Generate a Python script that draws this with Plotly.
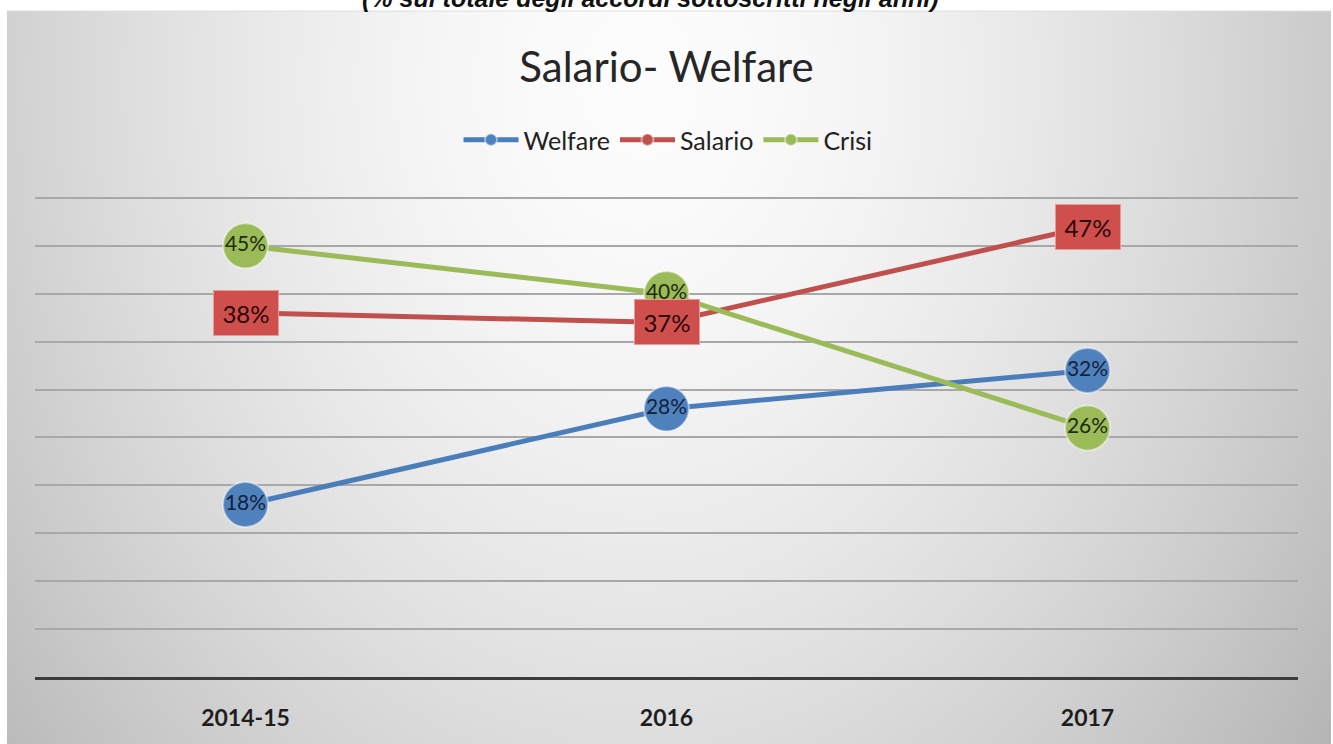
import base64, struct, zlib
import numpy as np
import plotly.graph_objects as go

# ---------------- data ----------------
categories = ["2014-15", "2016", "2017"]
welfare = [18, 28, 32]
salario = [38, 37, 47]
crisi = [45, 40, 26]
y_ticks = [0, 5, 10, 15, 20, 25, 30, 35, 40, 45, 50]

title_text = "Salario- Welfare"
subtitle_text = "(% sul totale degli accordi sottoscritti negli anni)"

W, H = 1333, 744
L, R, T, B = 35, 35, 196, 67
PW, PH = W - L - R, H - T - B

FONT = "Lato, 'Open Sans', sans-serif"


# ---------------- background gradient image (PNG data URI) ----------------
def make_png(arr):
    h, w = arr.shape
    raw = b"".join(b"\x00" + arr[i].astype(np.uint8).tobytes() for i in range(h))

    def chunk(tag, data):
        c = struct.pack(">I", len(data)) + tag + data
        return c + struct.pack(">I", zlib.crc32(tag + data) & 0xFFFFFFFF)

    png = b"\x89PNG\r\n\x1a\n"
    png += chunk(b"IHDR", struct.pack(">IIBBBBB", w, h, 8, 0, 0, 0, 0))
    png += chunk(b"IDAT", zlib.compress(raw, 9))
    png += chunk(b"IEND", b"")
    return "data:image/png;base64," + base64.b64encode(png).decode()


gx0, gy0, gx1, gy1 = 7, 11, 1331, 744
gw, gh = 331, 183
xs = np.linspace(gx0, gx1, gw)
ys = np.linspace(gy0, gy1, gh)
X, Y = np.meshgrid(xs, ys)
dx = (X - 640) / 650.0
dy = (Y - 80) / 664.0
d = np.sqrt(dx ** 2 + (0.8 * dy) ** 2)
val = np.clip(253 - 45 * d ** 1.6, 0, 255)
bg_uri = make_png(val)


def px_to_paper_x(px):
    return (px - L) / PW


def px_to_paper_y(py):
    return (H - B - py) / PH


fig = go.Figure()

series = [
    ("Welfare", welfare, "#4f81bd", "#4a7ebb", "#14213a"),
    ("Salario", salario, "#c0504d", "#c0504d", "#2a0a0a"),
    ("Crisi", crisi, "#9bbb59", "#9bbb59", "#1e2a0c"),
]

for name, vals, mcol, lcol, tcol in series:
    is_sal = name == "Salario"
    fig.add_trace(go.Scatter(
        x=categories, y=vals, name=name,
        mode="lines+markers" if is_sal else "lines+markers+text",
        text=None if is_sal else [f"{v}%" for v in vals],
        textposition="middle center",
        textfont=dict(family=FONT, size=21, color=tcol),
        line=dict(color=lcol, width=5),
        marker=dict(symbol="circle", size=14 if is_sal else 45, color=mcol,
                    line=dict(color="rgba(255,255,255,0.45)", width=2)),
        cliponaxis=False,
    ))

annotations = []
for i, v in enumerate(salario):
    annotations.append(dict(
        x=i, y=v, xref="x", yref="y", text=f"{v}%", showarrow=False,
        font=dict(family=FONT, size=24, color="#2a0808"),
        bgcolor="#cf4f4d", bordercolor="#e89a98", borderwidth=1,
        width=60, height=40, borderpad=2, align="center", valign="middle",
    ))

annotations.append(dict(
    x=px_to_paper_x(650), y=px_to_paper_y(-2), xref="paper", yref="paper",
    text=f"<b><i>{subtitle_text}</i></b>", showarrow=False,
    font=dict(family="'Liberation Sans', Arial, sans-serif", size=25, color="#111111"),
    xanchor="center", yanchor="middle",
))

fig.update_layout(
    width=W, height=H,
    margin=dict(l=L, r=R, t=T, b=B, autoexpand=False),
    paper_bgcolor="white",
    plot_bgcolor="rgba(0,0,0,0)",
    title=dict(text=title_text, x=0.5, xanchor="center",
               y=1 - 67 / H, yanchor="middle",
               font=dict(family=FONT, size=42, color="#262626")),
    legend=dict(orientation="h", x=px_to_paper_x(668), xanchor="center",
                y=px_to_paper_y(140), yanchor="middle",
                font=dict(family=FONT, size=25, color="#222222"),
                itemsizing="constant", bgcolor="rgba(0,0,0,0)",
                traceorder="normal", itemwidth=55),
    xaxis=dict(type="category", range=[-0.5, 2.5], showgrid=False, showline=True,
               linecolor="#3c3c3c", linewidth=3, ticks="",
               tickfont=dict(family=FONT, size=23, color="#1e1e1e"),
               ticklabelstandoff=18, tickprefix="<b>", ticksuffix="</b>",
               fixedrange=True),
    yaxis=dict(range=[0, 50.2], tickvals=y_ticks, showticklabels=False,
               showgrid=True, gridcolor="#a8a8a8", gridwidth=1.5,
               zeroline=False, showline=False, fixedrange=True),
    images=[dict(source=bg_uri, xref="paper", yref="paper",
                 x=px_to_paper_x(gx0), y=px_to_paper_y(gy0),
                 sizex=(gx1 - gx0) / PW, sizey=(gy1 - gy0) / PH,
                 sizing="stretch", layer="below", xanchor="left", yanchor="top")],
    shapes=[dict(type="line", xref="paper", yref="paper",
                 x0=px_to_paper_x(gx0), x1=px_to_paper_x(gx1),
                 y0=px_to_paper_y(gy0), y1=px_to_paper_y(gy0),
                 line=dict(color="#dedede", width=1), layer="below")],
    annotations=annotations,
    showlegend=True,
)

fig.write_html("out.html", config={"displayModeBar": False},
               post_script="document.body.style.margin='0';")
